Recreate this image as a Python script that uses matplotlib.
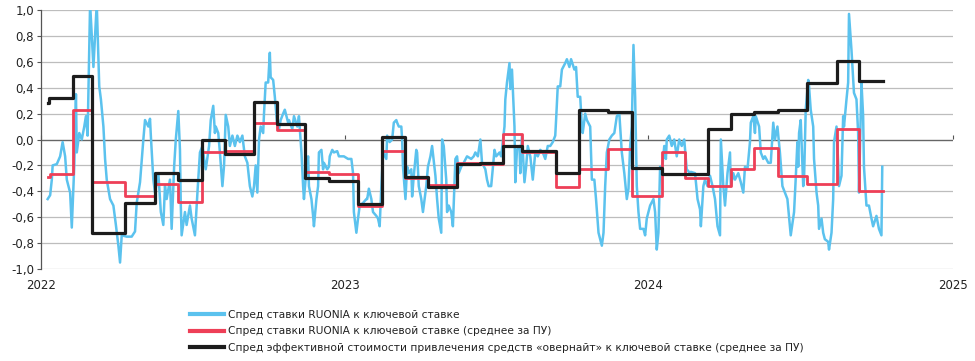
import numpy as np
import matplotlib
matplotlib.use("Agg")
import matplotlib.pyplot as plt

# ---- data (days since 2022-01-01) ----
blue_days = [8, 11, 13, 14, 19, 23, 26, 29, 31, 35, 37, 40, 42, 43, 46, 49, 52, 54, 56, 59,
             63, 65, 67, 70, 72, 75, 77, 79, 83, 87, 90, 93, 95, 97, 103, 109, 113, 115, 119, 123,
             125, 129, 131, 132, 135, 137, 141, 144, 147, 149, 151, 155, 157, 160, 162, 165, 167, 168, 169, 173,
             175, 179, 181, 185, 188, 191, 194, 196, 198, 202, 204, 207, 209, 210, 213, 215, 218, 220, 222, 225,
             227, 230, 233, 236, 239, 242, 245, 248, 251, 254, 256, 258, 260, 262, 264, 267, 268, 270, 273, 275,
             276, 279, 281, 284, 286, 288, 291, 293, 297, 298, 302, 304, 308, 310, 313, 315, 316, 319, 321, 322,
             325, 327, 328, 331, 333, 334, 337, 339, 340, 344, 346, 347, 350, 352, 356, 358, 362, 364, 369, 373,
             375, 376, 379, 381, 383, 387, 391, 392, 394, 397, 399, 403, 405, 407, 409, 411, 415, 416, 419, 422,
             424, 427, 428, 430, 433, 434, 435, 438, 440, 442, 445, 446, 448, 451, 452, 454, 457, 459, 463, 465,
             468, 470, 474, 476, 478, 481, 482, 484, 487, 488, 490, 493, 495, 498, 500, 502, 505, 508, 512, 517,
             520, 522, 525, 528, 530, 534, 536, 538, 541, 545, 547, 551, 553, 557, 558, 560, 563, 564, 566, 569,
             570, 572, 575, 576, 578, 581, 583, 585, 588, 591, 594, 597, 600, 603, 606, 609, 612, 615, 618, 619,
             621, 624, 626, 630, 632, 635, 637, 641, 643, 645, 648, 650, 651, 654, 656, 660, 662, 665, 667, 670,
             672, 674, 676, 678, 680, 683, 686, 689, 692, 695, 698, 701, 704, 706, 708, 710, 712, 714, 716, 718,
             720, 724, 726, 728, 732, 736, 738, 740, 742, 744, 746, 749, 751, 752, 755, 758, 761, 764, 767, 770,
             773, 776, 780, 781, 786, 789, 792, 793, 796, 798, 801, 804, 807, 810, 813, 816, 817, 820, 822, 825,
             828, 829, 832, 834, 838, 841, 844, 846, 849, 852, 853, 856, 858, 859, 863, 865, 868, 870, 874, 877,
             880, 882, 885, 888, 891, 894, 897, 900, 901, 905, 907, 909, 910, 911, 913, 916, 917, 919, 922, 923,
             925, 928, 929, 932, 934, 935, 938, 940, 942, 946, 947, 950, 952, 953, 956, 958, 959, 962, 964, 965,
             968, 970, 971, 974, 976, 977, 980, 982, 983, 986, 988, 989, 992, 995, 998, 1000, 1004, 1007, 1010, 1011]
blue_vals = [-0.46, -0.43, -0.31, -0.20, -0.19, -0.13, -0.02, -0.13, -0.31, -0.41, -0.68, -0.20, 0.35, -0.10, 0.05, 0.00, 0.10, 0.18, 0.03, 1.05,
             0.56, 0.80, 1.05, 0.41, 0.31, 0.10, -0.15, -0.31, -0.46, -0.51, -0.66, -0.82, -0.95, -0.74, -0.75, -0.75, -0.71, -0.49, -0.33, 0.00,
             0.15, 0.10, 0.16, 0.03, -0.31, -0.41, -0.26, -0.56, -0.66, -0.36, -0.46, -0.31, -0.69, -0.21, 0.00, 0.22, -0.08, -0.51, -0.74, -0.56,
             -0.66, -0.51, -0.61, -0.74, -0.41, -0.10, -0.05, -0.15, -0.23, -0.05, 0.15, 0.26, 0.05, 0.10, 0.05, -0.10, -0.36, -0.20, 0.19, 0.10,
             -0.05, 0.03, -0.05, 0.03, -0.02, 0.03, -0.13, -0.18, -0.36, -0.44, -0.36, -0.20, -0.41, 0.00, 0.10, 0.05, 0.20, 0.44, 0.44, 0.67,
             0.48, 0.46, 0.33, 0.10, 0.08, 0.15, 0.20, 0.23, 0.13, 0.15, 0.08, 0.18, 0.10, 0.18, -0.10, -0.36, -0.46, -0.23, -0.13, -0.36,
             -0.46, -0.59, -0.67, -0.46, -0.36, -0.10, -0.08, -0.23, -0.18, -0.23, -0.21, -0.13, -0.08, -0.10, -0.09, -0.13, -0.13, -0.13, -0.15, -0.15,
             -0.26, -0.56, -0.72, -0.61, -0.51, -0.49, -0.46, -0.46, -0.38, -0.46, -0.56, -0.59, -0.61, -0.67, -0.36, -0.10, -0.15, 0.03, -0.02, 0.00,
             0.13, 0.15, 0.13, 0.10, 0.10, 0.00, -0.21, -0.46, -0.21, -0.26, -0.23, -0.44, -0.28, -0.08, -0.10, -0.36, -0.46, -0.56, -0.36, -0.21,
             -0.13, -0.05, -0.28, -0.46, -0.61, -0.72, 0.00, -0.05, -0.31, -0.56, -0.51, -0.56, -0.67, -0.15, -0.13, -0.26, -0.21, -0.18, -0.13, -0.15,
             -0.13, -0.10, -0.13, 0.00, -0.18, -0.23, -0.31, -0.36, -0.36, -0.08, -0.13, -0.10, -0.13, 0.10, 0.31, 0.44, 0.59, 0.39, 0.54, 0.10,
             -0.33, -0.08, -0.05, -0.26, 0.03, -0.33, -0.21, -0.05, -0.13, -0.31, -0.10, -0.13, -0.08, -0.10, -0.15, -0.05, -0.05, -0.02, 0.03, 0.15,
             0.41, 0.41, 0.54, 0.59, 0.62, 0.56, 0.62, 0.54, 0.56, 0.33, 0.33, 0.10, 0.05, 0.20, 0.15, 0.10, -0.31, -0.31, -0.46, -0.72,
             -0.77, -0.82, -0.72, -0.36, -0.10, 0.00, 0.03, 0.05, 0.18, 0.20, -0.10, -0.26, -0.46, -0.38, -0.05, 0.10, 0.73, 0.33, -0.36, -0.56,
             -0.69, -0.69, -0.74, -0.61, -0.51, -0.46, -0.56, -0.85, -0.72, -0.21, -0.26, -0.05, -0.15, 0.00, 0.03, -0.05, 0.00, -0.13, 0.00, -0.05,
             0.00, -0.23, -0.26, -0.25, -0.26, -0.46, -0.54, -0.67, -0.36, -0.31, -0.36, -0.28, -0.36, -0.46, -0.67, -0.74, 0.00, -0.36, -0.51, -0.26,
             -0.10, -0.36, -0.26, -0.31, -0.26, -0.33, -0.41, -0.21, -0.23, -0.02, 0.13, 0.18, 0.05, 0.18, 0.10, -0.10, -0.15, -0.13, -0.18, -0.18,
             0.13, 0.00, 0.10, -0.10, -0.36, -0.41, -0.46, -0.67, -0.74, -0.56, -0.30, -0.02, -0.21, 0.05, 0.15, -0.36, -0.31, 0.23, 0.46, 0.41,
             0.23, 0.10, -0.15, -0.41, -0.51, -0.69, -0.61, -0.72, -0.77, -0.79, -0.85, -0.72, -0.46, -0.02, 0.10, -0.18, -0.36, -0.28, 0.18, 0.10,
             0.31, 0.44, 0.97, 0.69, 0.46, 0.36, 0.31, 0.05, -0.41, 0.44, 0.18, -0.21, -0.51, -0.51, -0.61, -0.67, -0.59, -0.69, -0.74, -0.21]

# averaging-period boundaries (days since 2022-01-01)
red_edges = [8, 11, 38, 61, 101, 137, 165, 194, 221, 256, 284, 317, 346, 381, 410, 438, 465, 500, 528, 555,
             578, 619, 647, 681, 710, 746, 774, 802, 829, 857, 886, 921, 956, 983, 1012]
red_vals = [-0.29, -0.27, 0.23, -0.33, -0.44, -0.34, -0.48, -0.10, -0.09, 0.13, 0.07, -0.25, -0.27, -0.51, -0.09,
            -0.30, -0.35, -0.18, -0.19, 0.04, -0.10, -0.37, -0.225, -0.07, -0.44, -0.10, -0.30, -0.36, -0.23, -0.065,
            -0.28, -0.34, 0.08, -0.40]
black_edges = [8, 10, 38, 61, 101, 137, 165, 194, 221, 256, 284, 317, 346, 381, 410, 438, 465, 500, 528, 555,
               578, 619, 647, 681, 710, 746, 802, 829, 857, 886, 921, 956, 983, 1012]
black_vals = [0.28, 0.32, 0.49, -0.72, -0.49, -0.26, -0.31, 0.00, -0.11, 0.29, 0.12, -0.30, -0.32, -0.50, 0.02,
              -0.29, -0.37, -0.19, -0.18, -0.05, -0.085, -0.26, 0.23, 0.21, -0.22, -0.27, 0.08, 0.20, 0.21, 0.23,
              0.44, 0.61, 0.45]

year_ticks = ["2022-01-01", "2023-01-01", "2024-01-01", "2025-01-01"]
year_labels = ["2022", "2023", "2024", "2025"]
y_ticks = [-1.0, -0.8, -0.6, -0.4, -0.2, 0.0, 0.2, 0.4, 0.6, 0.8, 1.0]

labels = ["Спред ставки RUONIA к ключевой ставке",
          "Спред ставки RUONIA к ключевой ставке (среднее за ПУ)",
          "Спред эффективной стоимости привлечения средств «овернайт» к ключевой ставке (среднее за ПУ)"]

# ---- helpers ----
base = np.datetime64("2022-01-01")
def to_dates(days):
    return base + np.array(days, dtype="timedelta64[D]")

plt.rcParams['font.family'] = ['DejaVu Sans']

fig = plt.figure(figsize=(9.75, 3.61), dpi=100)
ax = fig.add_axes([41/975, 92/361, 912/975, 259/361])

blue_c = "#5BC2EE"
red_c = "#EE3F57"
black_c = "#1C1C1C"

l1, = ax.plot(to_dates(blue_days), blue_vals, color=blue_c, lw=1.8, zorder=2, solid_joinstyle="round")
l2, = ax.step(to_dates(red_edges), red_vals + [red_vals[-1]], where="post", color=red_c, lw=2.0, zorder=3)
l3, = ax.step(to_dates(black_edges), black_vals + [black_vals[-1]], where="post", color=black_c, lw=2.3, zorder=4)

ax.set_ylim(-1.0, 1.0)
ax.set_xlim(np.datetime64(year_ticks[0]), np.datetime64(year_ticks[-1]))

ax.set_yticks(y_ticks)
ax.set_yticklabels([f"{v:.1f}".replace(".", ",") for v in y_ticks])
for v in y_ticks:
    if v != 0:
        ax.axhline(v, color="#bdbdbd", lw=0.9, zorder=1)
ax.axhline(0, color="#666666", lw=1.0, zorder=1)

xt = [np.datetime64(d) for d in year_ticks]
ax.set_xticks(xt)
ax.set_xticklabels(year_labels)
ax.tick_params(axis="x", length=0, pad=7, labelsize=8.5, colors="#222222")
ax.tick_params(axis="y", length=3, width=0.8, color="#555555", pad=2, labelsize=8.5, labelcolor="#222222")

for s in ["top", "right", "bottom"]:
    ax.spines[s].set_visible(False)
ax.spines["left"].set_color("#555555")
ax.spines["left"].set_linewidth(0.9)

sec = ax.secondary_xaxis(0.5)
sec.set_xticks(xt)
sec.tick_params(axis="x", direction="out", length=3, width=0.8, color="#555555", labelbottom=False, labeltop=False)
sec.spines["bottom"].set_visible(False)
sec.spines["top"].set_visible(False)

leg = fig.legend([l1, l2, l3], labels, loc="upper left", bbox_to_anchor=(190/975, 1 - 310/361),
                 frameon=False, fontsize=7.7, handlelength=3.2, handletextpad=0.35,
                 labelspacing=0.6, borderaxespad=0, borderpad=0)
for t in leg.get_texts():
    t.set_color("#222222")
for h in leg.legend_handles:
    h.set_linewidth(3.0)

fig.savefig("out.png", dpi=100)
